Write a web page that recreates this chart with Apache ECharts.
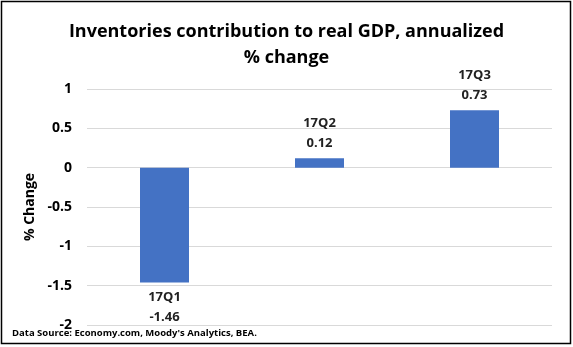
<!DOCTYPE html>
<html>
<head>
<meta charset="utf-8">
<script src="https://cdn.jsdelivr.net/npm/echarts@6/dist/echarts.min.js"></script>
<style>
  html, body { margin: 0; padding: 0; background: #fff; }
  #chart { width: 573px; height: 347px; }
</style>
</head>
<body>
<div id="chart"></div>
<script>
// Quarterly inventories contribution to real GDP (annualized % change)
const quarters = ['17Q1', '17Q2', '17Q3'];
const contribution = [-1.46, 0.12, 0.73];
const yTicks = [-2, -1.5, -1, -0.5, 0, 0.5, 1];

const FONT = '"Open Sans", "Noto Sans", sans-serif';

const chart = echarts.init(document.getElementById('chart'));

const barData = contribution.map((v, i) => ({
  value: v,
  label: { position: v >= 0 ? 'top' : 'bottom' }
}));

chart.setOption({
  animation: false,
  backgroundColor: '#fff',
  graphic: [
    {
      type: 'rect',
      shape: { x: 1.5, y: 1.5, width: 569, height: 342 },
      style: { fill: 'none', stroke: '#000', lineWidth: 1.5 },
      silent: true
    },
    {
      type: 'text',
      left: 12, top: 328,
      style: {
        text: "Data Source: Economy.com, Moody's Analytics, BEA.",
        font: 'bold 9.5px ' + FONT,
        fill: '#000'
      }
    }
  ],
  title: {
    text: 'Inventories contribution to real GDP, annualized\n% change',
    left: 'center',
    top: 14,
    textStyle: {
      fontFamily: FONT,
      fontSize: 18,
      fontWeight: 'bold',
      color: '#000',
      lineHeight: 26
    }
  },
  grid: { left: 87, right: 21, top: 89, bottom: 22, containLabel: false },
  xAxis: {
    type: 'category',
    data: quarters,
    axisLine: { show: false },
    axisTick: { show: false },
    axisLabel: { show: false }
  },
  yAxis: {
    type: 'value',
    min: yTicks[0],
    max: yTicks[yTicks.length - 1],
    interval: 0.5,
    name: '% Change',
    nameLocation: 'middle',
    nameGap: 50,
    nameRotate: 90,
    nameTextStyle: { fontFamily: FONT, fontSize: 14, fontWeight: 'bold', color: '#000' },
    axisLine: { show: false },
    axisTick: { show: false },
    axisLabel: {
      fontFamily: FONT, fontSize: 14, fontWeight: 'bold', color: '#000', margin: 15
    },
    splitLine: { lineStyle: { color: '#d9d9d9', width: 1 } }
  },
  series: [{
    type: 'bar',
    data: barData,
    barWidth: 49,
    itemStyle: { color: '#4472c4' },
    label: {
      show: true,
      distance: 5,
      fontFamily: FONT,
      fontSize: 13,
      fontWeight: 'bold',
      color: '#222',
      lineHeight: 20,
      formatter: p => quarters[p.dataIndex] + '\n' + p.value.toFixed(2)
    }
  }]
});
</script>
</body>
</html>
